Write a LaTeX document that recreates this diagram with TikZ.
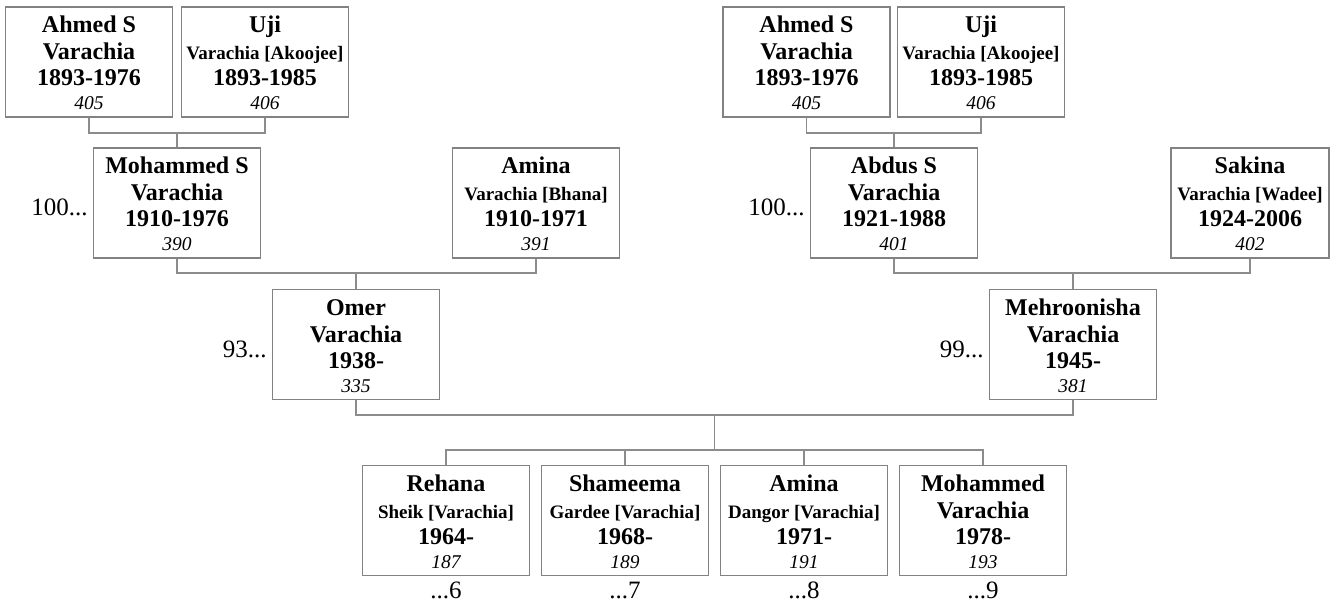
\documentclass[tikz,border=0pt]{standalone}
\usepackage{fontspec}
\setmainfont{Liberation Serif}
\usetikzlibrary{calc}
\definecolor{boxgray}{RGB}{130,130,130}
\definecolor{linegray}{RGB}{140,140,140}
\newlength\pbw
\newcommand\pline[1]{\hbox to\pbw{\hss\smash{#1}\hss}}
\newcommand\personbox[5][167pt]{\setlength\pbw{#1}\vbox to 110pt{\offinterlineskip
  \vskip25.5pt\pline{\fontsize{24}{26}\selectfont\bfseries #2}%
  \vskip27pt\pline{\fontsize{24}{26}\selectfont\bfseries #3}%
  \vskip26pt\pline{\fontsize{24}{26}\selectfont\bfseries #4}%
  \vskip24pt\pline{\fontsize{19.5}{22}\selectfont\itshape #5}\vfil}}
\newcommand\maiden[1]{{\fontsize{19}{21}\selectfont #1}}
\tikzset{
  person/.style={draw=boxgray, line width=1.3pt, minimum width=#1, minimum height=110pt, inner sep=0pt, fill=white},
  person/.default=167pt,
  conn/.style={draw=linegray, line width=1.2pt},
  idx/.style={font=\fontsize{25}{27}\selectfont, inner sep=0pt},
}
\begin{document}
\begin{tikzpicture}[x=1pt,y=-1pt]
\useasboundingbox (0,0) rectangle (1331,602);
% rows
\coordinate (ya) at (0,133);
\coordinate (yb) at (0,273);
\coordinate (yc) at (0,415);
\coordinate (yd) at (0,450);
% left family
\node[person] (ahmedL) at (89,62) {\personbox{Ahmed S}{Varachia}{1893-1976}{405}};
\node[person] (ujiL) at (265,62) {\personbox{Uji}{\maiden{Varachia [Akoojee]}}{1893-1985}{406}};
\node[person] (moh) at (177,203) {\personbox{Mohammed S}{Varachia}{1910-1976}{390}};
\node[person] (aminaP) at (536,203) {\personbox{Amina}{\maiden{Varachia [Bhana]}}{1910-1971}{391}};
\node[person] (omer) at (356,344.5) {\personbox{Omer}{Varachia}{1938-}{335}};
% right family
\node[person] (ahmedR) at (806.5,62) {\personbox{Ahmed S}{Varachia}{1893-1976}{405}};
\node[person] (ujiR) at (981,62) {\personbox{Uji}{\maiden{Varachia [Akoojee]}}{1893-1985}{406}};
\node[person] (abdus) at (894,203) {\personbox{Abdus S}{Varachia}{1921-1988}{401}};
\node[person=158pt] (sakina) at (1250,203) {\personbox[158pt]{Sakina}{\maiden{Varachia [Wadee]}}{1924-2006}{402}};
\node[person] (mehr) at (1073,344.5) {\personbox{Mehroonisha}{Varachia}{1945-}{381}};
% children
\node[person] (c1) at (446,520.5) {\personbox{Rehana}{\maiden{Sheik [Varachia]}}{1964-}{187}};
\node[person] (c2) at (625,520.5) {\personbox{Shameema}{\maiden{Gardee [Varachia]}}{1968-}{189}};
\node[person] (c3) at (804,520.5) {\personbox{Amina}{\maiden{Dangor [Varachia]}}{1971-}{191}};
\node[person] (c4) at (983,520.5) {\personbox{Mohammed}{Varachia}{1978-}{193}};
% index labels
\node[idx, anchor=east] (lmoh) at ([xshift=-5pt,yshift=-4.5pt]moh.west) {100...};
\node[idx, anchor=east] (lomer) at ([xshift=-5pt,yshift=-4.5pt]omer.west) {93...};
\node[idx, anchor=east] (labdus) at ([xshift=-5pt,yshift=-4.5pt]abdus.west) {100...};
\node[idx, anchor=east] (lmehr) at ([xshift=-5pt,yshift=-4.5pt]mehr.west) {99...};
\node[idx, anchor=north] (l1) at ([yshift=-5.5pt]c1.south) {...6};
\node[idx, anchor=north] (l2) at ([yshift=-5.5pt]c2.south) {...7};
\node[idx, anchor=north] (l3) at ([yshift=-5.5pt]c3.south) {...8};
\node[idx, anchor=north] (l4) at ([yshift=-5.5pt]c4.south) {...9};
% connectors
\draw[conn] (ahmedL.south) -- (ahmedL.south |- ya) -| (ujiL.south);
\draw[conn] (moh.north) -- (moh.north |- ya);
\draw[conn] (ahmedR.south) -- (ahmedR.south |- ya) -| (ujiR.south);
\draw[conn] (abdus.north) -- (abdus.north |- ya);
\draw[conn] (moh.south) -- (moh.south |- yb) -| (aminaP.south);
\draw[conn] (omer.north) -- (omer.north |- yb);
\draw[conn] (abdus.south) -- (abdus.south |- yb) -| (sakina.south);
\draw[conn] (mehr.north) -- (mehr.north |- yb);
\draw[conn] (omer.south) -- (omer.south |- yc) -| (mehr.south);
\coordinate (cm) at ($(omer.south |- yc)!0.5!(mehr.south |- yc)$);
\draw[conn] (cm) -- (cm |- yd);
\draw[conn] (c1.north) -- (c1.north |- yd) -- (c4.north |- yd) -- (c4.north);
\draw[conn] (c2.north) -- (c2.north |- yd);
\draw[conn] (c3.north) -- (c3.north |- yd);
\end{tikzpicture}
\end{document}
